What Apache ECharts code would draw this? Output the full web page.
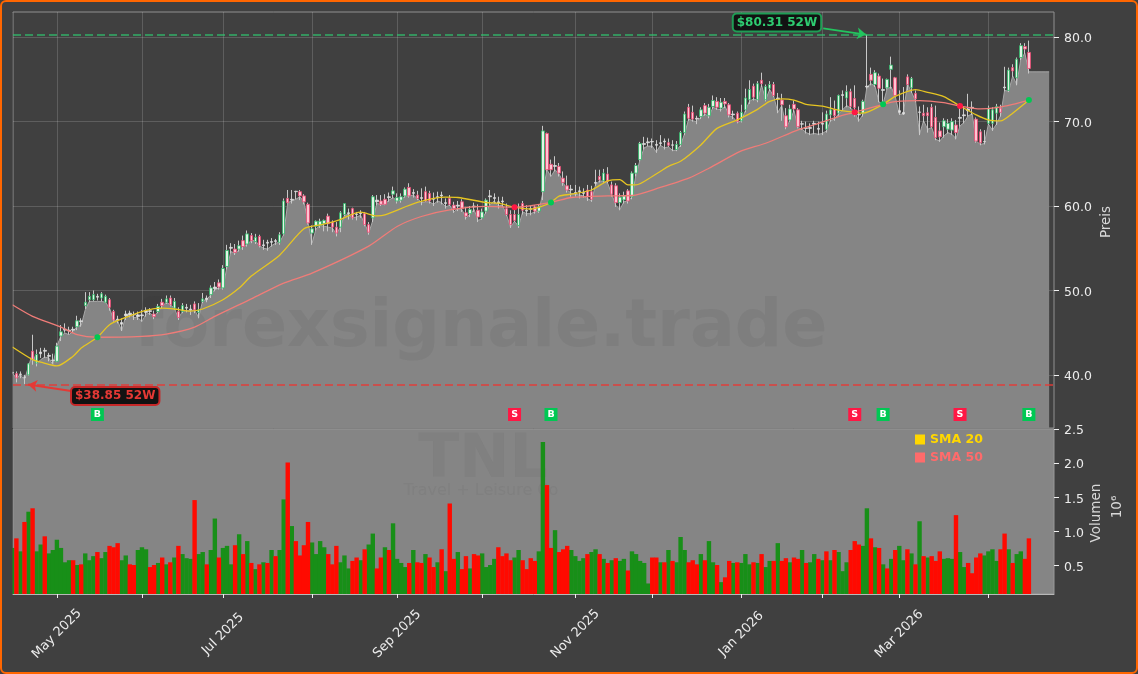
<!DOCTYPE html>
<html><head><meta charset="utf-8">
<style>html,body{margin:0;padding:0;background:#404040;width:1138px;height:674px;overflow:hidden}
#c{position:absolute;left:0;top:0;width:1138px;height:674px}
#f{position:absolute;left:0;top:0;width:1138px;height:674px;box-sizing:border-box;border:2.5px solid #ff6600;border-radius:6px;pointer-events:none}</style>
<script src="https://cdn.jsdelivr.net/npm/echarts@6/dist/echarts.min.js"></script>
</head><body><div id="c"></div><div id="f"></div>
<script>
// [open, close, low, high] per trading day
const candles=[
[40.1,40.2,39.7,40.5],[40.04,39.53,39.0,40.3],[39.95,40.0,39.5,40.3],[39.6,39.65,38.8,39.9],[39.9,41.2,39.8,41.3],
[42.7,41.7,41.1,44.65],[41.3,42.3,40.9,42.9],[42.4,42.6,41.9,43.1],[42.7,42.8,41.9,43.1],[42.1,42.2,41.5,42.5],
[41.6,41.65,41.2,42.4],[41.5,43.3,41.4,43.7],[44.5,45,43.9,45.8],[45.2,45.3,44.9,46],[45.1,45.2,44.7,45.6],
[45.2,45.3,44.85,45.6],[45.6,46.3,45.2,46.9],[46.2,46.3,45.6,46.6],[48.1,48.5,47.7,49.7],[48.8,49.2,48.5,49.7],
[48.8,49.4,48.6,49.9],[49.1,49.2,48.7,49.5],[49,49.5,48.6,49.7],[48.5,49.2,48.4,49.4],[48.8,47.9,47.5,49],
[47.4,46.4,46.2,47.6],[46.4,46.5,46,46.9],[46.1,45.9,45.1,46.6],[46.9,47.1,46.4,47.5],[47,47.2,46.7,47.5],
[47,47.05,46.4,47.4],[46.8,47,46.4,47.4],[46.9,47,46.2,47.6],[47.3,47.5,46.8,47.9],[47.4,47.5,47,47.8],
[47.1,46.8,46.5,47.5],[47.4,48,47.2,48.3],[48.5,48.1,47.8,48.9],[48.5,48.9,48.3,49.3],[49,48.2,48,49.3],
[47.8,48.6,47.6,49],[47.4,46.7,46.4,47.9],[47.4,48.1,47.2,48.4],[47.9,47.8,47.3,48.3],[47.6,47.7,47,48.2],
[48.3,47.6,47.2,48.6],[47.3,47.6,46.6,48.4],[48.6,48.9,48.4,49.6],[48.8,49,48.5,49.3],[49.4,50.2,49,50.5],
[50.1,50.3,49.8,50.9],[50.8,50.3,50,51.2],[50.2,52.5,50,52.9],[52.74,54.64,52.4,55.3],[54.9,55,54.3,55.5],
[54.8,54.4,54.1,55.4],[54.8,55.2,54.5,55.8],[55.8,55.1,54.7,56.4],[55.4,56.6,55.1,57],[56.4,55.8,55.5,56.7],
[55.7,56.2,55.4,56.6],[56.3,55.2,55,56.5],[55.2,55.3,54.7,55.9],[55.5,55.6,54.6,55.9],[55.6,55.7,55.1,56.1],
[55.7,55.8,55.3,56],[55.6,56.5,55.3,56.8],[56.6,60.5,56.4,60.8],[60.8,60.3,60.2,61.8],[60.6,60.7,60.2,61.8],
[61.6,61.65,60.7,61.7],[61.6,61.1,60.6,61.8],[61.1,60.4,60.1,61.3],[60.1,57.9,57.7,60.3],[56.7,57.2,55.3,57.6],
[57.5,58.1,57,58.2],[57.6,58.1,57.3,58.4],[57.8,58.2,56.9,58.3],[58.7,57.8,56.9,59],[58,57.4,56.8,58.2],
[57.4,56.7,56.3,58],[57.4,59.1,56.8,59.3],[58.9,60.2,58.7,60.2],[59,59.1,58.3,59.6],[59.6,58.5,58.3,59.7],
[58.9,58.95,58.2,59.2],[59,59.1,58.5,59.4],[59,57.7,57.5,59.2],[57.7,56.8,56.5,58],[58.5,61,58,61.2],
[60.4,60.6,60,61.2],[60.5,60.1,59.9,61.2],[60.7,60.1,60,61.3],[60.9,61,60.4,61.5],[61.3,61.7,60.8,62.2],
[60.5,60.9,60.2,61.4],[60.6,61,60.3,61.4],[61.1,61.9,60.9,62.1],[62.1,61.1,60.9,62.6],[61.4,61.5,60.9,61.9],
[61.2,60.8,60.6,61.7],[60.8,60.9,60,62],[61.6,60.5,60.4,62.2],[61.4,60.5,60.2,61.7],[60.7,60.8,59.9,61.5],
[60.9,61,60.3,61.6],[61.1,61.2,60.1,61.6],[60.2,60.3,59.6,60.8],[60.8,60.1,59.9,61.2],[60,59.6,59.1,60.4],
[59.9,60,59.3,60.5],[60.4,59.6,59.2,60.7],[59.1,58.7,58.3,59.8],[59,59.5,58.6,59.9],[59.8,59.9,59.2,60.3],
[59.4,58.6,58,60.1],[58.5,59.2,58.3,59.6],[59.3,60.6,59,60.8],[61,61.1,60,61.8],[60.8,60.9,60.2,61.4],
[60.4,60.2,59.6,61],[60.5,60.4,59.8,61],[59.6,58.9,58.7,60.2],[58.9,57.7,57.3,59.4],[58.9,58.2,58,59.8],
[57.6,58.9,57.3,60.2],[60.2,59.4,58.9,60.5],[59.3,59.4,58.7,60],[59.6,59.5,58.8,59.9],[59.8,59.3,59,60],
[59.3,59.8,59.1,60.1],[61.6,68.8,60.6,69.4],[68.5,64.2,64,68.6],[64.85,64.2,63.4,65.4],[64.6,64.7,64,65.8],
[64.6,63.8,63.4,65],[63.2,62.7,62.3,64],[62.3,61.8,61.5,63.5],[61.8,61.9,61,62.4],[61.4,61.5,61,62.4],
[61.6,61.7,60.8,62.2],[61.4,61.5,60.9,62],[61.8,61,60.5,62.4],[61.6,60.7,60.4,62.3],[62.6,62.7,62.3,64.2],
[63.4,63,62.7,64.2],[62.9,63.8,62.6,64.3],[63.7,62.8,62.6,64.5],[62.4,61.3,61,62.8],[62.3,60.3,59.8,62.6],
[60.3,60.95,59.4,61.4],[60.63,61.1,60.2,61.6],[61.7,60.5,60.2,61.9],[61,63.8,60.7,64],[63.8,64.7,63.4,65],
[65.4,67.3,65.2,67.5],[67.2,67.3,66.6,68.1],[67.4,67.5,67,68],[67.5,67.55,66.8,67.9],[67.2,67.1,66.2,67.7],
[67.3,67.4,67,68.3],[67.5,67.6,66.6,67.9],[67.4,67.1,66.9,67.9],[67.1,67.15,66.4,67.7],[66.6,67.2,66.4,67.6],
[67.2,68.6,66.9,68.8],[68.6,70.8,68.3,71.1],[71.6,70.3,70,72],[71,70.2,69.9,71.8],[70.2,70.3,69.6,70.6],
[70.5,71.3,70.2,71.6],[71.8,70.9,70.6,72.1],[70.6,71.6,70.3,72],[71.7,72.4,71.4,73],[72.3,71.6,71.3,72.8],
[71.5,72.2,71.1,72.7],[72.3,72,71.5,72.7],[71.9,70.7,70.4,72.1],[70.7,70.8,70.2,71.2],[70.9,69.9,69.7,71.1],
[70,71,69.8,71.9],[71.3,72.7,71,73.8],[72.5,73.7,72,74.8],[74.1,72.8,72.4,74.4],[72.5,74.4,72.2,74.7],
[74.8,74.4,74,75.7],[72.5,74.05,72.3,74.3],[73.85,74.3,73.5,74.7],[74.3,73,72.8,74.6],[72.6,72.7,70.9,73.3],
[72.46,71.9,70,73.2],[70.6,69.3,69,71.5],[70.1,71.4,69.9,71.9],[71.95,71.4,71,72.4],[71.3,69.3,69.1,71.5],
[69.6,69.65,68.9,70],[69.1,69.15,68.5,69.9],[69.1,69.2,68.3,69.7],[69.6,69.7,68.4,70],[69,69.1,68.3,69.9],
[69.6,69.7,68.3,71],[69,70.8,68.6,71.2],[70.7,71.3,69.9,72.8],[71.4,70.6,70,72.4],[70.9,73,70.6,73.1],
[73,73.1,71.2,73.6],[72.7,73.45,71.6,74.2],[73.45,71.7,71.4,73.8],[72.65,71.55,70.5,74.2],[70.7,70.75,69.9,71.7],
[70.9,72.3,70.5,72.5],[74,74.1,73.8,80.2],[75.5,74.8,74.2,76.3],[74.3,75.7,74,76],[75.3,73.85,72.2,75.6],
[73.6,73.7,71.9,75],[73.9,74.9,73.7,75],[76.1,76.6,73.8,77.6],[75.1,73,72.8,75.2],[71.2,71,70.7,73.6],
[70.8,71,70.7,74],[75.2,74.3,73.6,75.5],[73.9,75,73.3,75.2],[73.25,72.6,72.2,73.6],[71,71.05,68.3,71.7],
[70.9,70.6,69.8,71.9],[70.95,70.6,68.6,71.6],[71.6,69.3,69.1,72],[70.4,68,67.7,71.8],[68.8,68.1,67.5,69.8],
[69.3,70,68,70.3],[69,69.7,68.5,70.2],[68.9,69.9,68.3,70.3],[69.5,68.6,67.8,70.1],[70.3,70.4,69.3,72.1],
[70.6,70.7,69.7,71.7],[71.2,71.4,70.5,73.2],[71.6,71.5,70.7,72.3],[70.2,67.6,67.4,70.4],[68.7,67.4,67.1,69],
[67.5,67.55,67.2,68.9],[69.7,71.5,69.5,71.8],[69.7,71.3,68.8,71.6],[70.9,71.7,69.5,72],[71.5,71,70.5,71.9],
[73.9,74,73.5,76.4],[73.6,76,73.4,76.3],[76.3,75.9,75.2,76.7],[75.1,77.3,74.2,77.5],[77.5,78.9,77.2,79.2],
[78.8,78.5,77.9,79.2],[78.1,76.2,75.6,79.5]];
// grey area outline, one value per slot (five slots past the last candle stay flat)
const areaLine=[40.1,39.5,39.9,39.3,40.9,42.5,41.2,41.7,42,41.9,41.1,43.3,44.5,44.85,44.65,45.05,45.65,45.75,47.6,48.6,
48.6,48.6,48.6,48.5,47.8,46.4,46.3,45.1,46.9,47,46.7,46.7,46.2,47.1,47.2,46.8,47.4,48,48.5,48.2,
47.8,46.6,47.4,47.5,47.5,47.6,46.7,48.7,48.8,49.4,50,50.2,50.2,52.7,54.5,54.3,54.7,55.1,55.4,55.8,
55.8,55.2,54.9,54.8,55.2,55.5,55.6,56.5,60.3,60.5,60.7,61,60.4,58,55.5,57.2,57.6,57.5,57.4,57.3,
56.6,57.4,58.8,58.9,58.5,58.6,58.8,57.8,56.7,58.2,60.2,60.1,60.1,60.6,60.9,60.5,60.6,61.1,61.1,61.2,
60.8,60.3,60.4,60.4,60.1,60.5,60.3,59.8,60,59.2,59.6,59.5,58.5,58.9,59.5,58.2,58.4,59.2,60.1,60.5,
59.9,60,58.9,57.4,58.1,57.5,59.2,59,59,59.2,59.3,61.5,64.2,63.4,64.2,63.7,62.7,61.8,61.4,61.3,
61.2,61.1,60.8,60.5,62.4,62.9,62.8,62.6,61.3,60,59.5,60.4,60.5,61,63.6,65.4,66.8,67,67,66.3,
67.1,66.8,66.9,66.5,66.5,67.1,68.5,70.2,70,69.9,70.4,70.8,70.5,71.6,71.4,71.3,71.7,70.6,70.4,69.8,
70,71.2,72.3,72.6,72.4,74.2,72.5,73.7,72.9,71,71.8,69.2,70,71.2,69.2,69,68.6,68.4,68.5,68.4,
68.5,68.8,70,70.2,70.8,71.3,71.8,71.5,71,70,70.7,74,74.4,74.1,72.2,72,73.8,74,72.9,70.8,
70.8,74.4,73.4,72.4,68.4,70,69,69.2,67.8,67.6,68.2,68.6,68.4,67.9,69.4,69.8,70.6,70.8,67.6,67.2,
67.3,69.6,68.9,69.6,70.6,73.6,73.5,75.3,74.3,77.3,78,75.8,75.8,75.8,75.8,75.8,75.8];
const volumes=[
.76,.90,.71,1.14,1.29,1.34,.71,.81,.93,.68,
.73,.88,.76,.55,.58,.58,.51,.52,.68,.58,
.64,.70,.61,.70,.79,.77,.83,.58,.65,.52,
.51,.73,.77,.74,.48,.51,.54,.62,.52,.55,
.62,.79,.67,.61,.60,1.46,.67,.70,.52,.73,
1.19,.62,.76,.79,.52,.80,.96,.67,.86,.54,
.45,.52,.55,.54,.73,.64,.73,1.47,2.01,1.08,
.86,.65,.80,1.14,.84,.67,.86,.77,.67,.52,
.79,.55,.65,.46,.57,.62,.58,.74,.81,.97,
.46,.62,.77,.73,1.12,.60,.54,.48,.54,.73,
.55,.54,.67,.62,.48,.55,.74,.42,1.41,.60,
.70,.45,.64,.46,.67,.65,.68,.48,.51,.60,
.77,.64,.68,.58,.62,.73,.58,.45,.61,.57,
.71,2.31,1.68,.76,1.02,.70,.74,.79,.73,.64,
.57,.61,.67,.70,.74,.67,.60,.54,.58,.61,
.57,.60,.43,.71,.67,.57,.54,.24,.62,.62,
.55,.55,.73,.57,.55,.92,.73,.55,.58,.52,
.67,.58,.86,.55,.51,.26,.33,.57,.54,.55,
.54,.67,.52,.55,.54,.67,.48,.57,.57,.83,
.57,.61,.55,.62,.60,.73,.54,.55,.67,.60,
.58,.71,.58,.73,.70,.42,.55,.73,.86,.81,
.79,1.34,.90,.77,.76,.52,.46,.60,.73,.79,
.58,.74,.68,.52,1.15,.64,.62,.64,.57,.71,
.60,.61,.60,1.24,.70,.48,.54,.39,.62,.68,
.65,.71,.74,.57,.74,.97,.74,.54,.67,.71,.60,.90];
// G = green bar, R = red bar, same order as volumes
const volumeSide=["GRGRGRGGRG","GGGGGRGRGG","GRGGRRRGGR","RGGGRRGRGR","GRGGGRGGRG","GRGGGRGRGR","GRGRGRGGRG","RRRRGGGGRR","RGGGRRGRGG","RRGRGGGGRG","RRGRRGRGRR","GRRGRRGGGG","RRRRGGRRRR","GGRRGRRRGG","GGRGGRGRGR","GGRGGGGGRR","GRGRGGGRRR","GRGGRGRRGR","GGGRGRGGRG","RRGRRGRGGR","GRGRGGGRRR","GGRGRGRGRG","GRGRGRGRRR","GGGRGGRRRR","GGGGRRGRGGRR"].join("");
const sma20=[[0,43.2],[5,41.7],[7,41.4],[11,40.95],[15,42.1],[17,43.08],[21,44.35],[24,45.84],[28,46.7],[33,47.55],[37,47.8],[40,47.7],[44,47.45],[47,47.7],[52,48.8],[56,50.18],[59,51.6],[66,54.08],[72,57.2],[76,57.67],[80,58.14],[86,59.17],[90,58.73],[92,58.85],[100,60.32],[107,60.95],[110,60.91],[117,60.32],[120,60.24],[124,59.76],[128,59.53],[130,59.73],[133,60.32],[135,61.07],[138,61.3],[143,61.8],[147,62.88],[150,63.04],[152,62.4],[154,62.4],[158,63.4],[162,64.6],[165,65.2],[170,67.14],[174,69.1],[179,70.1],[184,71.36],[187,72.3],[190,72.6],[193,72.46],[196,71.95],[200,71.75],[203,71.36],[208,71.0],[210,70.9],[215,71.95],[218,72.9],[223,73.7],[226,73.37],[230,72.86],[234,71.75],[238,70.7],[241,70.1],[244,69.98],[247,70.9],[251,72.46]];
const sma50=[[0,48.2],[5,46.83],[12,45.56],[16,44.65],[21,44.35],[32,44.46],[38,44.73],[45,45.56],[50,46.83],[59,48.9],[67,50.77],[74,51.95],[88,55.15],[95,57.48],[101,58.66],[108,59.44],[117,59.85],[124,59.76],[133,60.32],[138,60.91],[147,61.1],[153,61.15],[160,62.1],[167,63.2],[172,64.38],[180,66.43],[186,67.34],[194,68.93],[198,69.53],[204,70.5],[208,71.0],[215,71.95],[218,72.27],[224,72.4],[230,72.15],[234,71.75],[239,71.4],[243,71.56],[247,71.95],[251,72.46]];
const signalKinds=["B","S","B","S","B","S","B"];
const signalDays=[21,124,133,208,215,234,251];
const signalPrices=[44.35,59.76,60.32,71.0,71.95,71.75,72.46];
const signalRow=35.3;
const monthDays=[11,32,52,74,95,116,139,158,180,200,219,241];
const labelDays=[11,52,95,139,180,219];
const labelTexts=["May 2025","Jul 2025","Sep 2025","Nov 2025","Jan 2026","Mar 2026"];
const priceTicks=[40,50,60,70,80];
const volumeTicks=[0.5,1,1.5,2,2.5];
const high52=80.31, low52=38.85;
const highText="$80.31 52W", lowText="$38.85 52W";
// readings above were taken about 0.1 low against the tick marks
const adj=0.1;

const FONT='"DejaVu Sans",sans-serif', GREEN='#00c853', RED='#ff1744';
const fix=v=>+(v+adj).toFixed(2);
const wicks=candles.map((r,i)=>[i,fix(r[0]),fix(r[1]),fix(r[2]),fix(r[3])]);
const bodies=candles.map((r,i)=>{
  const value=[i,fix(r[0]),fix(r[1]),fix(Math.min(r[0],r[1])),fix(Math.max(r[0],r[1]))];
  const small=Math.abs(r[0]-r[1])<=0.25;
  return small?{value,itemStyle:{color:'#e8e8e8',color0:'#e8e8e8',borderColor:'#d8d8d8',borderColor0:'#d8d8d8'}}:{value};
});
const ax={color:'#ececec',fontFamily:FONT};
const tickLabel={customValues:null,show:true,margin:10,...ax,fontSize:12.5,formatter:v=>'{t|'+v.toFixed(1)+'}',
  rich:{t:{color:'#ececec',fontFamily:FONT,fontSize:12.5,padding:[4,0,0,0]}}};
const nameStyle={fontFamily:FONT,fontSize:13.5,fill:'#d8d8d8',textAlign:'center',textVerticalAlign:'middle'};
const opt={
 animation:false,backgroundColor:'#404040',
 legend:{show:true,orient:'vertical',left:910,top:428,itemWidth:10,itemHeight:10,itemGap:5,icon:'rect',
  data:['SMA 20','SMA 50'],textStyle:{color:'inherit',fontFamily:FONT,fontSize:12.5,fontWeight:'bold'},selectedMode:false},
 graphic:[
  {type:'text',z:1.5,x:481,y:329,style:{text:'forexsignale.trade',fontFamily:FONT,fontWeight:'bold',fontSize:66.5,fill:'rgba(40,40,40,0.07)',textAlign:'center',textVerticalAlign:'middle'}},
  {type:'text',z:1.5,x:483,y:461,style:{text:'TNL',fontFamily:FONT,fontWeight:'bold',fontSize:60,fill:'rgba(40,40,40,0.05)',textAlign:'center',textVerticalAlign:'middle'}},
  {type:'text',z:1.5,x:481,y:491,style:{text:'Travel + Leisure Co',fontFamily:FONT,fontSize:16,fill:'rgba(40,40,40,0.05)',textAlign:'center',textVerticalAlign:'middle'}},
  {type:'text',x:1106,y:222,rotation:Math.PI/2,style:{text:'Preis',...nameStyle}},
  {type:'text',x:1096,y:513,rotation:Math.PI/2,style:{text:'Volumen',...nameStyle}},
  {type:'text',x:1117,y:507,rotation:Math.PI/2,style:{text:'10⁶',...nameStyle}},
  {type:'rect',z:100,shape:{x:3,y:13,width:9.5,height:581},style:{fill:'#404040'},silent:true}
 ],
 grid:[
  {left:13,right:84,top:12,height:416,show:true,backgroundColor:'#404040',borderColor:'#909090',borderWidth:1},
  {left:13,right:84,top:429,height:165,show:true,backgroundColor:'#858585',borderColor:'#989898',borderWidth:1}
 ],
 xAxis:[
  {type:'value',gridIndex:0,min:0.16,max:257.2,axisLine:{show:false},axisLabel:{show:false},
   axisTick:{show:false,customValues:monthDays},splitLine:{show:true,lineStyle:{color:'rgba(255,255,255,0.16)',width:1}}},
  {type:'value',gridIndex:1,min:0.16,max:257.2,axisLine:{show:true,onZero:false,lineStyle:{color:'#b8b8b8'}},
   axisTick:{show:true,length:4,customValues:monthDays,lineStyle:{color:'#f0f0f0'}},splitLine:{show:false},
   axisLabel:{show:true,customValues:labelDays,rotate:45,align:'center',verticalAlign:'middle',margin:40,hideOverlap:false,fontSize:13,...ax,
    formatter:v=>labelTexts[labelDays.indexOf(Math.round(v))]||''}}
 ],
 yAxis:[
  {type:'value',gridIndex:0,position:'right',min:33.7,max:82.99,axisLine:{show:false},
   axisTick:{show:true,length:5,customValues:priceTicks,lineStyle:{color:'#f0f0f0'}},
   axisLabel:{...tickLabel,customValues:priceTicks},
   splitLine:{show:true,lineStyle:{color:'rgba(255,255,255,0.16)',width:1}}},
  {type:'value',gridIndex:1,position:'right',min:0.086,max:2.5,axisLine:{show:false},
   axisTick:{show:true,length:5,customValues:volumeTicks,lineStyle:{color:'#f0f0f0'}},
   axisLabel:{...tickLabel,customValues:volumeTicks},
   splitLine:{show:false}}
 ],
 series:[
  {type:'line',name:'Area',xAxisIndex:0,yAxisIndex:0,z:1,symbol:'none',silent:true,clip:true,
   data:areaLine.map((v,i)=>[i,fix(v)]),lineStyle:{color:'#a8a8a8',width:1},areaStyle:{color:'#858585',opacity:1}},
  {type:'candlestick',name:'Wicks',xAxisIndex:0,yAxisIndex:0,z:3,barWidth:1,clip:true,data:wicks,
   itemStyle:{color:'#c8c8c8',color0:'#c8c8c8',borderColor:'#c8c8c8',borderColor0:'#c8c8c8',borderColorDoji:'#c8c8c8',borderWidth:1}},
  {type:'candlestick',name:'Bodies',xAxisIndex:0,yAxisIndex:0,z:4,barWidth:3,clip:true,data:bodies,
   itemStyle:{color:'#e2f5e6',color0:'#ffc4d2',borderColor:'#2fb868',borderColor0:'#e84a72',borderColorDoji:'#dddddd',borderWidth:0.8}},
  {type:'line',name:'SMA 20',xAxisIndex:0,yAxisIndex:0,z:5,symbol:'none',smooth:0.25,data:sma20.map(p=>[p[0],fix(p[1])]),
   lineStyle:{color:'#e6c522',width:1.3},itemStyle:{color:'#ffd700'}},
  {type:'line',name:'SMA 50',xAxisIndex:0,yAxisIndex:0,z:5,symbol:'none',smooth:0.25,data:sma50.map(p=>[p[0],fix(p[1])]),
   lineStyle:{color:'#f07c78',width:1.3},itemStyle:{color:'#ff6b6b'}},
  {type:'scatter',name:'Crossings',xAxisIndex:0,yAxisIndex:0,z:6,symbol:'circle',symbolSize:6,silent:true,
   data:signalDays.map((d,i)=>({value:[d,fix(signalPrices[i])],itemStyle:{opacity:1,color:signalKinds[i]==='B'?GREEN:RED}}))},
  {type:'scatter',name:'Signals',xAxisIndex:0,yAxisIndex:0,z:6,symbol:'rect',symbolSize:13,silent:true,
   data:signalDays.map((d,i)=>({value:[d,signalRow],itemStyle:{opacity:1,color:signalKinds[i]==='B'?GREEN:RED},
    label:{show:true,position:'inside',formatter:signalKinds[i],color:'#ffffff',fontFamily:FONT,fontSize:9.5,fontWeight:'bold'}}))},
  {type:'line',name:'Notes',xAxisIndex:0,yAxisIndex:0,z:7,symbol:'none',data:[],silent:true,
   markLine:{silent:true,animation:false,label:{show:false},symbol:'none',precision:2,data:[
    {yAxis:high52,lineStyle:{color:'rgba(46,204,113,0.6)',type:[8,4],width:2}},
    {yAxis:low52,lineStyle:{color:'rgba(229,57,53,0.7)',type:[8,4],width:2}},
    [{coord:[200.2,81.05],symbol:'none',lineStyle:{color:'#22c55e',width:2,type:'solid'}},{coord:[210.8,high52],symbol:'arrow',symbolSize:9}],
    [{coord:[14.5,38.08],symbol:'none',lineStyle:{color:'#e53935',width:2,type:'solid'}},{coord:[3.9,low52],symbol:'arrow',symbolSize:9}]
   ]},
   markPoint:{silent:true,animation:false,symbol:'rect',symbolSize:1,itemStyle:{color:'rgba(0,0,0,0)'},data:[
    {coord:[188.8,81.74],label:{show:true,position:'inside',formatter:highText,color:'#2ecc71',fontFamily:FONT,fontSize:12,fontWeight:'bold',backgroundColor:'#121212',borderColor:'#1f9d55',borderWidth:2,borderRadius:3,padding:[2,3,2,3]}},
    {coord:[25.4,37.49],label:{show:true,position:'inside',formatter:lowText,color:'#e53935',fontFamily:FONT,fontSize:12,fontWeight:'bold',backgroundColor:'#121212',borderColor:'#c62828',borderWidth:2,borderRadius:3,padding:[2,3,2,3]}}
   ]}},
  {type:'bar',name:'Volume up',xAxisIndex:1,yAxisIndex:1,z:3,barWidth:4.4,barGap:'-100%',clip:true,
   data:volumes.map((v,i)=>[i,volumeSide[i]==='G'?v:null]),itemStyle:{color:'#188f18'}},
  {type:'bar',name:'Volume down',xAxisIndex:1,yAxisIndex:1,z:4,barWidth:4.4,barGap:'-100%',clip:true,
   data:volumes.map((v,i)=>[i,volumeSide[i]==='R'?v:null]),itemStyle:{color:'#ff0a00'}}
 ]
};
const chart=echarts.init(document.getElementById('c'),null,{renderer:'canvas',width:1138,height:674});
chart.setOption(opt);
</script></body></html>
